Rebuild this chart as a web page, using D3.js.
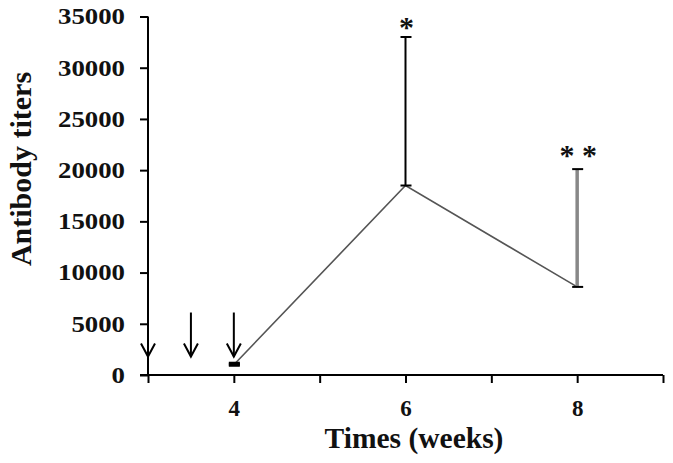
<!DOCTYPE html>
<html>
<head>
<meta charset="utf-8">
<script src="https://cdn.jsdelivr.net/npm/d3@7"></script>
<style>
  body { margin: 0; background: #fff; }
  text { font-family: "Liberation Serif", "Times New Roman", serif; font-weight: bold; }
</style>
</head>
<body>
<div id="chart"></div>
<script>
// data
var weeks = [4, 6, 8];
var titers = [1000, 18500, 8600];
var upperErr = [1100, 33000, 20100];
var errColors = ['#000', '#000', '#888'];
var starLabels = ['', '*', '* *'];
var arrowWeeks = [3, 3.5, 4];
var arrowTop = 6100, arrowTip = 1800;
var xTicks = [3, 4, 5, 6, 7, 8, 9];
var xLabeled = [4, 6, 8];
var yTicks = [0, 5000, 10000, 15000, 20000, 25000, 30000, 35000];

var svgWidth = 673, svgHeight = 463;

var svg = d3.select('#chart').append('svg')
  .attr('width', svgWidth)
  .attr('height', svgHeight);

svg.append('rect').attr('width', svgWidth).attr('height', svgHeight).attr('fill', '#fff');

var xScale = d3.scaleLinear().domain([3, 9]).range([148, 663]);
var yScale = d3.scaleLinear().domain([0, 35000]).range([375, 16.5]);

// y axis
var yAxis = d3.axisLeft(yScale)
  .tickValues(yTicks)
  .tickSize(8)
  .tickPadding(15)
  .tickFormat(d3.format('d'));

var gy = svg.append('g')
  .attr('transform', 'translate(148,0)')
  .call(yAxis);
gy.select('.domain').attr('d', 'M0,' + yScale(35000) + 'V' + yScale(0)).attr('stroke', '#000').attr('stroke-width', 2);
gy.selectAll('.tick line').attr('stroke', '#000').attr('stroke-width', 2);
gy.selectAll('.tick text')
  .attr('fill', '#111')
  .style('font-size', '23px')
  .attr('textLength', d => String(d).length * 13.4)
  .attr('lengthAdjust', 'spacingAndGlyphs');

// x axis
var xAxis = d3.axisBottom(xScale)
  .tickValues(xTicks)
  .tickSize(8)
  .tickPadding(17)
  .tickFormat(d => xLabeled.indexOf(d) >= 0 ? d : '');

var gx = svg.append('g')
  .attr('transform', 'translate(0,' + yScale(0) + ')')
  .call(xAxis);
gx.select('.domain').attr('d', 'M140,0H' + xScale(9)).attr('stroke', '#000').attr('stroke-width', 2);
gx.selectAll('.tick line').attr('stroke', '#000').attr('stroke-width', 2);
gx.selectAll('.tick text').attr('fill', '#111').style('font-size', '23px');

// axis titles
svg.append('text')
  .attr('x', 414)
  .attr('y', 448)
  .attr('text-anchor', 'middle')
  .style('font-size', '29.5px')
  .attr('fill', '#111')
  .text('Times (weeks)');

svg.append('text')
  .attr('transform', 'translate(31,169) rotate(-90)')
  .attr('text-anchor', 'middle')
  .style('font-size', '30px')
  .attr('fill', '#111')
  .text('Antibody titers');

// arrows marking immunisations
var arrows = svg.append('g').attr('stroke', '#000').attr('stroke-width', 2).attr('fill', 'none');
arrowWeeks.forEach(function(w) {
  var x = xScale(w), y0 = yScale(arrowTop), y1 = yScale(arrowTip);
  arrows.append('line').attr('x1', x).attr('x2', x).attr('y1', y0).attr('y2', y1);
  arrows.append('path').attr('d', 'M' + (x - 7) + ',' + (y1 - 13) + 'L' + x + ',' + y1 + 'L' + (x + 7) + ',' + (y1 - 13));
});

// mean line
var line = d3.line()
  .x((d, i) => xScale(weeks[i]))
  .y(d => yScale(d));

svg.append('path')
  .datum(titers)
  .attr('d', line)
  .attr('fill', 'none')
  .attr('stroke', '#555')
  .attr('stroke-width', 1.6);

// error bars
weeks.forEach(function(w, i) {
  var x = xScale(w);
  svg.append('line')
    .attr('x1', x).attr('x2', x)
    .attr('y1', yScale(titers[i])).attr('y2', yScale(upperErr[i]))
    .attr('stroke', errColors[i])
    .attr('stroke-width', i === 2 ? 3.5 : 2);
  [titers[i], upperErr[i]].forEach(function(v) {
    svg.append('line')
      .attr('x1', x - 5).attr('x2', x + 6)
      .attr('y1', yScale(v)).attr('y2', yScale(v))
      .attr('stroke', '#000')
      .attr('stroke-width', i === 0 ? 4 : 2);
  });
  if (starLabels[i]) {
    svg.append('text')
      .attr('x', x + 1)
      .attr('y', yScale(upperErr[i]) - (i === 2 ? 4 : 0))
      .attr('text-anchor', 'middle')
      .style('font-size', '30px')
      .attr('fill', '#111')
      .text(starLabels[i]);
  }
});
</script>
</body>
</html>
